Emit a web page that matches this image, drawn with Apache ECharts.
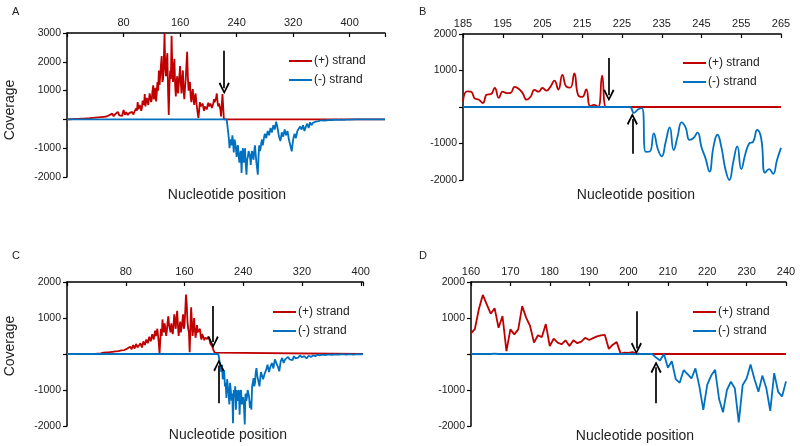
<!DOCTYPE html>
<html><head><meta charset="utf-8">
<script src="https://cdn.jsdelivr.net/npm/echarts@6/dist/echarts.min.js"></script>
<style>html,body{margin:0;padding:0;background:#fff}#c{width:800px;height:446px}</style>
</head><body><div id="c"></div>
<script>
// ---------- DATA ----------
const seriesNames = ['(+) strand', '(-) strand'];
const panelLetters = ['A', 'B', 'C', 'D'];
const xTickA = [80, 160, 240, 320, 400];
const xTickC = [80, 160, 240, 320, 400];

// Panel A: [position, coverage]
const aPlus = [[0,0],[2,0],[4,5],[6,0],[8,10],[10,5],[12,15],[14,10],[16,20],[18,15],[20,25],[22,20],[24,30],[26,25],[28,35],[30,30],[32,40],[34,35],[36,50],[38,40],[40,60],[42,45],[44,70],[46,55],[48,80],[50,60],[52,90],[54,70],[56,100],[58,60],[60,150],[62,90],[64,200],[66,110],[68,180],[70,120],[72,260],[74,140],[76,200],[78,120],[80,330],[82,160],[84,250],[86,150],[88,220],[90,180],[92,260],[94,170],
[96,300],[97,250],[98,380],[99,300],[100,600],[101,350],[102,420],[103,500],[104,560],[105,300],[106,400],[107,650],[108,700],[109,500],[110,880],[111,450],[112,620],[113,750],[114,800],[115,500],[116,560],[117,900],[118,950],[119,600],[120,700],[121,1000],[122,1180],[123,700],[124,850],[125,1100],[126,620],[127,900],[128,1300],[129,1000],[130,1700],[131,1200],[132,1150],[133,1900],[134,2200],[135,1300],[136,1400],[137,2000],[138,3000],[139,1800],[140,1500],[141,2000],[142,2300],[143,1000],[144,150],[145,1200],[146,1700],[147,1400],[148,2900],[149,1800],[150,1300],[151,1800],[152,2100],[153,1200],[154,800],[155,1300],[156,1500],[157,900],[158,1160],[159,1500],[160,1850],[161,1300],[162,900],[163,1400],[164,1700],[165,1000],[166,700],[167,1100],[168,1400],[169,1900],[170,2350],[171,1500],[172,1000],[173,1200],[174,1300],[175,800],[176,600],[177,900],[178,1050],[179,700],[180,500],[181,800],[182,900],[183,600],[184,400],[185,200],[186,50],[187,300],[188,600],[189,450],[190,400],[191,500],[192,550],[193,400],[194,300],[195,450],[196,500],[197,400],[198,350],[199,500],[200,580],[201,450],[202,420],[203,550],[204,500],[205,400],[206,380],[207,550],[208,700],[209,600],[210,550],[211,750],[212,900],[213,600],[214,450],[215,550],[216,600],[217,350],[218,100],[219,500],[220,880],[221,900],[222,0],[450,0]];
const aMinus = [[0,0],[226,0],[228,-50],[229,-650],[230,-1000],[231,-800],[232,-700],[233,-900],[234,-550],[235,-800],[236,-1150],[237,-700],[238,-800],[239,-1000],[240,-1300],[241,-1000],[242,-900],[243,-1300],[244,-1500],[245,-1200],[246,-1100],[247,-1860],[248,-1200],[249,-1000],[250,-1500],[251,-1300],[252,-1000],[253,-1600],[254,-1920],[255,-1400],[256,-1300],[257,-1100],[258,-1050],[259,-1300],[260,-1580],[261,-1200],[262,-1100],[263,-1300],[264,-1400],[265,-1100],[266,-900],[267,-1200],[268,-1500],[269,-1700],[270,-1920],[271,-1300],[272,-900],[273,-1100],[274,-1000],[275,-800],[276,-700],[277,-900],[278,-760],[279,-600],[280,-500],[282,-650],[284,-400],[286,-550],[288,-300],[290,-450],[292,-200],[294,-350],[296,-80],[298,-300],[300,-600],[302,-750],[304,-450],[306,-600],[308,-350],[310,-550],[312,-400],[314,-700],[316,-900],[318,-1110],[320,-700],[322,-500],[324,-650],[326,-400],[328,-450],[330,-250],[332,-350],[334,-200],[336,-400],[338,-250],[340,-150],[342,-300],[344,-100],[346,-200],[348,-120],[350,-150],[352,-80],[354,-120],[356,-60],[358,-100],[360,-30],[362,-60],[364,-40],[366,-70],[368,-30],[370,-50],[372,-20],[374,-40],[376,-20],[378,-30],[380,-10],[384,-20],[388,-10],[392,-15],[396,-5],[400,-10],[410,0],[450,0]];

// Panel B: positions 185..265
const bPos = [185,186,187,188,189,190,191,192,193,194,195,196,197,198,199,200,201,202,203,204,205,206,207,208,209,210,211,212,213,214,215,216,217,218,219,220,221,222,223,224,225,226,227,228,229,230,231,232,233,234,235,236,237,238,239,240,241,242,243,244,245,246,247,248,249,250,251,252,253,254,255,256,257,258,259,260,261,262,263,264,265];
const bPlus = [150,430,420,230,200,110,340,350,520,250,420,380,390,550,500,380,200,280,470,420,520,450,560,720,480,880,560,530,920,320,280,480,20,60,0,860,0,0,0,0,0,0,0,0,0,0,0,0,0,0,0,0,0,0,0,0,0,0,0,0,0,0,0,0,0,0,0,0,0,0,0,0,0,0,0,0,0,0,0,0,0];
const bMinus = [0,0,0,0,0,0,0,0,0,0,0,0,0,0,0,0,0,0,0,0,0,0,0,0,0,0,0,0,0,0,0,0,0,0,0,0,0,0,0,0,0,0,0,-160,-70,-30,-1230,-1220,-720,-1150,-1350,-950,-560,-1180,-800,-420,-560,-900,-850,-700,-1100,-1400,-1770,-1100,-760,-1100,-1700,-2000,-1500,-1080,-1700,-1300,-1000,-950,-630,-850,-1800,-1700,-1830,-1450,-1120];

// Panel C: [position, coverage]
const cPlus = [[0,0],[38,0],[40,20],[42,10],[44,30],[46,15],[48,25],[50,40],[52,20],[54,45],[56,30],[58,50],[60,35],[62,60],[64,40],[66,70],[68,50],[70,80],[72,60],[74,100],[76,70],[78,110],[80,90],[82,150],[84,100],[86,200],[88,130],[90,250],[92,150],[94,280],[96,180],[98,200],[100,300],[102,180],[104,350],[106,250],[108,400],[110,300],[112,480],[114,350],[116,550],[118,400],
[120,650],[121,500],[122,450],[123,700],[124,500],[125,300],[126,0],[127,400],[128,700],[129,500],[130,960],[131,700],[132,600],[133,850],[134,800],[135,500],[136,650],[137,900],[138,1050],[139,800],[140,700],[141,600],[142,850],[143,700],[144,550],[145,800],[146,1100],[147,900],[148,700],[149,1000],[150,1200],[151,800],[152,500],[153,700],[154,900],[155,600],[156,650],[157,900],[158,1100],[159,700],[160,800],[161,1200],[162,1650],[163,1400],[164,900],[165,700],[166,600],[167,50],[168,700],[169,1300],[170,900],[171,500],[172,700],[173,1000],[174,700],[175,450],[176,600],[177,800],[178,600],[179,550],[180,650],[181,700],[182,500],[183,400],[184,550],[185,600],[186,450],[187,380],[188,450],[189,480],[190,400],[191,420],[192,480],[193,520],[194,400],[195,300],[196,350],[197,250],[198,200],[199,130],[200,80],[201,40],[202,0],[403,0]];
const cMinus = [[0,0],[206,0],[207,-100],[208,-250],[209,-350],[210,-500],[211,-300],[212,-700],[213,-600],[214,-450],[215,-900],[216,-800],[217,-1220],[218,-700],[219,-900],[220,-1100],[221,-1400],[222,-800],[223,-1000],[224,-1300],[225,-1100],[226,-1920],[227,-1000],[228,-1200],[229,-900],[230,-1550],[231,-1000],[232,-1300],[233,-1100],[234,-1000],[235,-1690],[236,-1100],[237,-1000],[238,-1400],[239,-1300],[240,-1200],[241,-1500],[242,-1960],[243,-1100],[244,-1300],[245,-1200],[246,-1000],[247,-1100],[248,-1200],[249,-1500],[250,-1300],[251,-1550],[252,-900],[253,-800],[254,-670],[255,-900],[256,-800],[257,-500],[258,-390],[259,-600],[260,-700],[262,-900],[264,-500],[265,-480],[267,-700],[269,-550],[271,-450],[273,-300],[275,-500],[277,-350],[279,-250],[281,-400],[283,-150],[285,-200],[287,-350],[289,-480],[291,-200],[293,-110],[295,-250],[297,-150],[299,-200],[301,-80],[303,-150],[305,-100],[307,-170],[309,-60],[311,-120],[313,-80],[315,-100],[317,-40],[320,-90],[323,-60],[326,-120],[329,-50],[332,-80],[335,-40],[338,-60],[341,-20],[344,-40],[348,-15],[352,-30],[356,-10],[360,-25],[365,-10],[370,-20],[375,-5],[380,-15],[385,-5],[390,-20],[395,-5],[400,-10],[403,0]];

// Panel D: positions 160..240
const dPos = [160,161,162,163,164,165,166,167,168,169,170,171,172,173,174,175,176,177,178,179,180,181,182,183,184,185,186,187,188,189,190,191,192,193,194,195,196,197,198,199,200,201,202,203,204,205,206,207,208,209,210,211,212,213,214,215,216,217,218,219,220,221,222,223,224,225,226,227,228,229,230,231,232,233,234,235,236,237,238,239,240];
const dPlus = [575,700,1250,1640,1380,1120,1270,730,1055,80,685,545,685,1330,1010,780,315,520,470,832,222,425,315,270,380,222,380,300,345,450,390,440,490,520,530,140,260,330,10,40,30,50,20,0,5,0,5,0,0,5,0,5,0,0,5,0,0,5,0,0,5,0,0,5,0,0,5,0,0,5,0,0,5,0,0,5,0,0,5,0,0];
const dMinus = [0,5,0,5,0,0,10,0,5,0,0,5,0,0,5,0,0,5,0,0,5,0,0,0,5,0,0,5,0,0,0,5,0,0,0,5,0,0,0,0,0,0,0,0,0,0,0,-100,-180,0,-380,-200,-700,-800,-450,-560,-680,-400,-900,-1550,-850,-600,-440,-1250,-1620,-1000,-770,-950,-1900,-860,-680,-290,-700,-1050,-600,-950,-1580,-530,-1050,-1180,-760];

// Arrow annotations [x, yStart, x, yEnd]
const arrowsA = [[222.5, 2380, 222.5, 1080], [228.5, -2180, 228.5, -960]];
const arrowsB = [[221.7, 1340, 221.7, 320], [227.6, -1280, 227.6, -330]];
const arrowsC = [[199, 1330, 199, 330], [206.7, -1370, 206.7, -320]];
const arrowsD = [[202, 1190, 202, 150], [207, -1370, 207, -370]];

// ---------- CHART ----------
const RED = '#C00000', BLUE = '#0070C0';
const FONT = '"Liberation Sans", Arial, sans-serif';
const chevron = 'path://M5,0 L10,9 L8.6,10 L5,3 L1.4,10 L0,9 Z';

function zip(xs, ys) { return xs.map((x, i) => [x, ys[i]]); }

const grids = [
  {left: 67, top: 33, width: 318, height: 144},
  {left: 463, top: 34, width: 318, height: 146},
  {left: 67, top: 282, width: 296, height: 144},
  {left: 471, top: 282, width: 315, height: 144}
];
const xCfg = [
  {min: 0, max: 450, interval: 80, fmt: v => xTickA.includes(v) ? String(v) : ''},
  {min: 185, max: 265, interval: 10, fmt: v => String(v)},
  {min: 0, max: 403, interval: 80, fmt: v => xTickC.includes(v) ? String(v) : ''},
  {min: 160, max: 240, interval: 10, fmt: v => String(v)}
];
const yCfg = [
  {min: -2000, max: 3000}, {min: -2000, max: 2000}, {min: -2000, max: 2000}, {min: -2000, max: 2000}
];

const xAxis = xCfg.map((c, i) => ({
  type: 'value', gridIndex: i, position: 'top', min: c.min, max: c.max, interval: c.interval,
  axisLine: {onZero: false, lineStyle: {color: '#000', width: 1.5}},
  axisTick: {inside: true, length: 4, lineStyle: {color: '#000', width: 1.2}},
  splitLine: {show: false},
  axisLabel: {formatter: c.fmt, fontSize: 11, color: '#222', fontFamily: FONT, margin: 5}
}));
const yAxis = yCfg.map((c, i) => ({
  type: 'value', gridIndex: i, min: c.min, max: c.max, interval: 1000,
  axisLine: {show: true, onZero: false, lineStyle: {color: '#000', width: 1.5}},
  axisTick: {show: true, length: 4, lineStyle: {color: '#000', width: 1.2}},
  splitLine: {show: false},
  axisLabel: {formatter: v => v === 0 ? '' : String(v), fontSize: 10.5, color: '#222', fontFamily: FONT, margin: 6}
}));

function arrowMarks(list) {
  return {
    silent: true, animation: false,
    symbol: ['none', chevron], symbolSize: [11, 12],
    lineStyle: {color: '#000', width: 1.7, type: 'solid'},
    label: {show: false}, emphasis: {disabled: true},
    data: list.map(a => [{coord: [a[0], a[1]]}, {coord: [a[2], a[3]]}])
  };
}

const panelData = [
  [aPlus, aMinus, false, arrowsA],
  [zip(bPos, bPlus), zip(bPos, bMinus), 0.5, arrowsB],
  [cPlus, cMinus, false, arrowsC],
  [zip(dPos, dPlus), zip(dPos, dMinus), false, arrowsD]
];
const series = [];
panelData.forEach((p, i) => {
  series.push({name: seriesNames[0], type: 'line', xAxisIndex: i, yAxisIndex: i, data: p[0], showSymbol: false, smooth: p[2],
    lineStyle: {color: RED, width: 1.8}, itemStyle: {color: RED}, z: 2});
  series.push({name: seriesNames[1], type: 'line', xAxisIndex: i, yAxisIndex: i, data: p[1], showSymbol: false, smooth: p[2],
    lineStyle: {color: BLUE, width: 1.8}, itemStyle: {color: BLUE}, z: 3, markLine: arrowMarks(p[3])});
});

const legendPos = [[284, 50], [678, 52], [268, 301], [688, 301]];
const legend = legendPos.map(p => ({
  left: p[0], top: p[1], orient: 'vertical', itemGap: 7, itemWidth: 23, itemHeight: 2, icon: 'rect',
  data: seriesNames, selectedMode: false,
  textStyle: {fontSize: 12, color: '#222', fontFamily: FONT, padding: [0, 0, 0, -3]}
}));

const letterPos = [[12, 6], [419, 6], [12, 250], [419, 250]];
const xNamePos = [[227, 195], [636, 195], [228, 435], [635, 436]];
const graphic = [];
letterPos.forEach((p, i) => graphic.push({type: 'text', left: p[0], top: p[1],
  style: {text: panelLetters[i], fontSize: 11, fill: '#222', fontFamily: FONT}}));
xNamePos.forEach(p => graphic.push({type: 'text', x: p[0], y: p[1],
  style: {text: 'Nucleotide position', fontSize: 14, fill: '#222', fontFamily: FONT, align: 'center', verticalAlign: 'middle'}}));
[[10, 110], [10, 346]].forEach(p => graphic.push({type: 'text', x: p[0], y: p[1], rotation: Math.PI / 2,
  style: {text: 'Coverage', fontSize: 14, fill: '#222', fontFamily: FONT, align: 'center', verticalAlign: 'middle'}}));

const chart = echarts.init(document.getElementById('c'), null, {renderer: 'canvas'});
chart.setOption({
  backgroundColor: '#fff', animation: false,
  grid: grids, xAxis, yAxis, series, legend, graphic
});
</script></body></html>
